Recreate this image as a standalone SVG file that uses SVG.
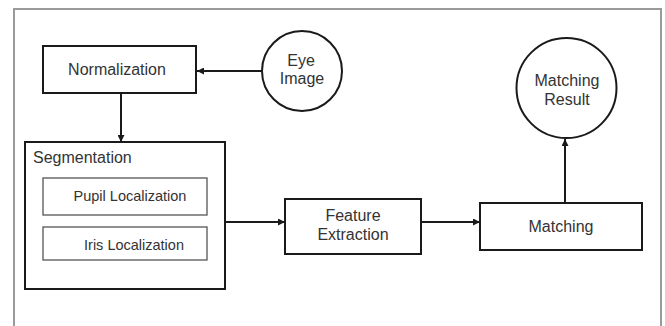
<svg xmlns="http://www.w3.org/2000/svg" width="665" height="326" viewBox="0 0 665 326">
<style>
.frame{fill:#fff;stroke:#9a9a9a;stroke-width:2}
.box{fill:#fff;stroke:#1a1a1a;stroke-width:2}
.sub{fill:#fff;stroke:#555;stroke-width:1.3}
.t{font-family:"Liberation Sans",Arial,sans-serif;font-size:16px;fill:#333}
.ts{font-family:"Liberation Sans",Arial,sans-serif;font-size:14.5px;fill:#333}
.c{text-anchor:middle}
.edge{stroke:#1a1a1a;stroke-width:2;fill:none;marker-end:url(#ah)}
</style>
<defs>
<marker id="ah" viewBox="0 0 10 10" refX="10" refY="5" markerWidth="8" markerHeight="7" markerUnits="userSpaceOnUse" orient="auto">
<path d="M0,0 L10,5 L0,10 z" fill="#1a1a1a"/>
</marker>
</defs>
<rect width="665" height="326" fill="#fff"/>
<rect class="frame" x="14" y="9" width="647" height="330"/>
<g id="connectors">
<line class="edge" x1="262" y1="71" x2="197" y2="71"/>
<line class="edge" x1="121" y1="93" x2="121" y2="142"/>
<line class="edge" x1="225" y1="222" x2="285" y2="222"/>
<line class="edge" x1="421" y1="222" x2="480" y2="222"/>
<line class="edge" x1="565" y1="203" x2="565" y2="139"/>
</g>
<g id="eye-image">
<circle class="box" cx="302" cy="71" r="40"/>
<text class="t c" x="301" y="66">Eye</text>
<text class="t c" x="302" y="84">Image</text>
</g>
<g id="normalization">
<rect class="box" x="43" y="46" width="153" height="47"/>
<text class="t c" x="117" y="75">Normalization</text>
</g>
<g id="segmentation">
<rect class="box" x="25" y="142" width="200" height="147"/>
<text class="t" x="33" y="163">Segmentation</text>
</g>
<g id="pupil-localization">
<rect class="sub" x="43" y="178" width="164" height="37"/>
<text class="ts c" x="130" y="201">Pupil Localization</text>
</g>
<g id="iris-localization">
<rect class="sub" x="43" y="227" width="164" height="33"/>
<text class="ts c" x="134" y="250">Iris Localization</text>
</g>
<g id="feature-extraction">
<rect class="box" x="285" y="199" width="136" height="55"/>
<text class="t c" x="353" y="221">Feature</text>
<text class="t c" x="353" y="240">Extraction</text>
</g>
<g id="matching">
<rect class="box" x="480" y="203" width="162" height="47"/>
<text class="t c" x="561" y="232">Matching</text>
</g>
<g id="matching-result">
<circle class="box" cx="566.5" cy="88" r="50"/>
<text class="t c" x="567" y="86">Matching</text>
<text class="t c" x="567" y="105">Result</text>
</g>
</svg>
